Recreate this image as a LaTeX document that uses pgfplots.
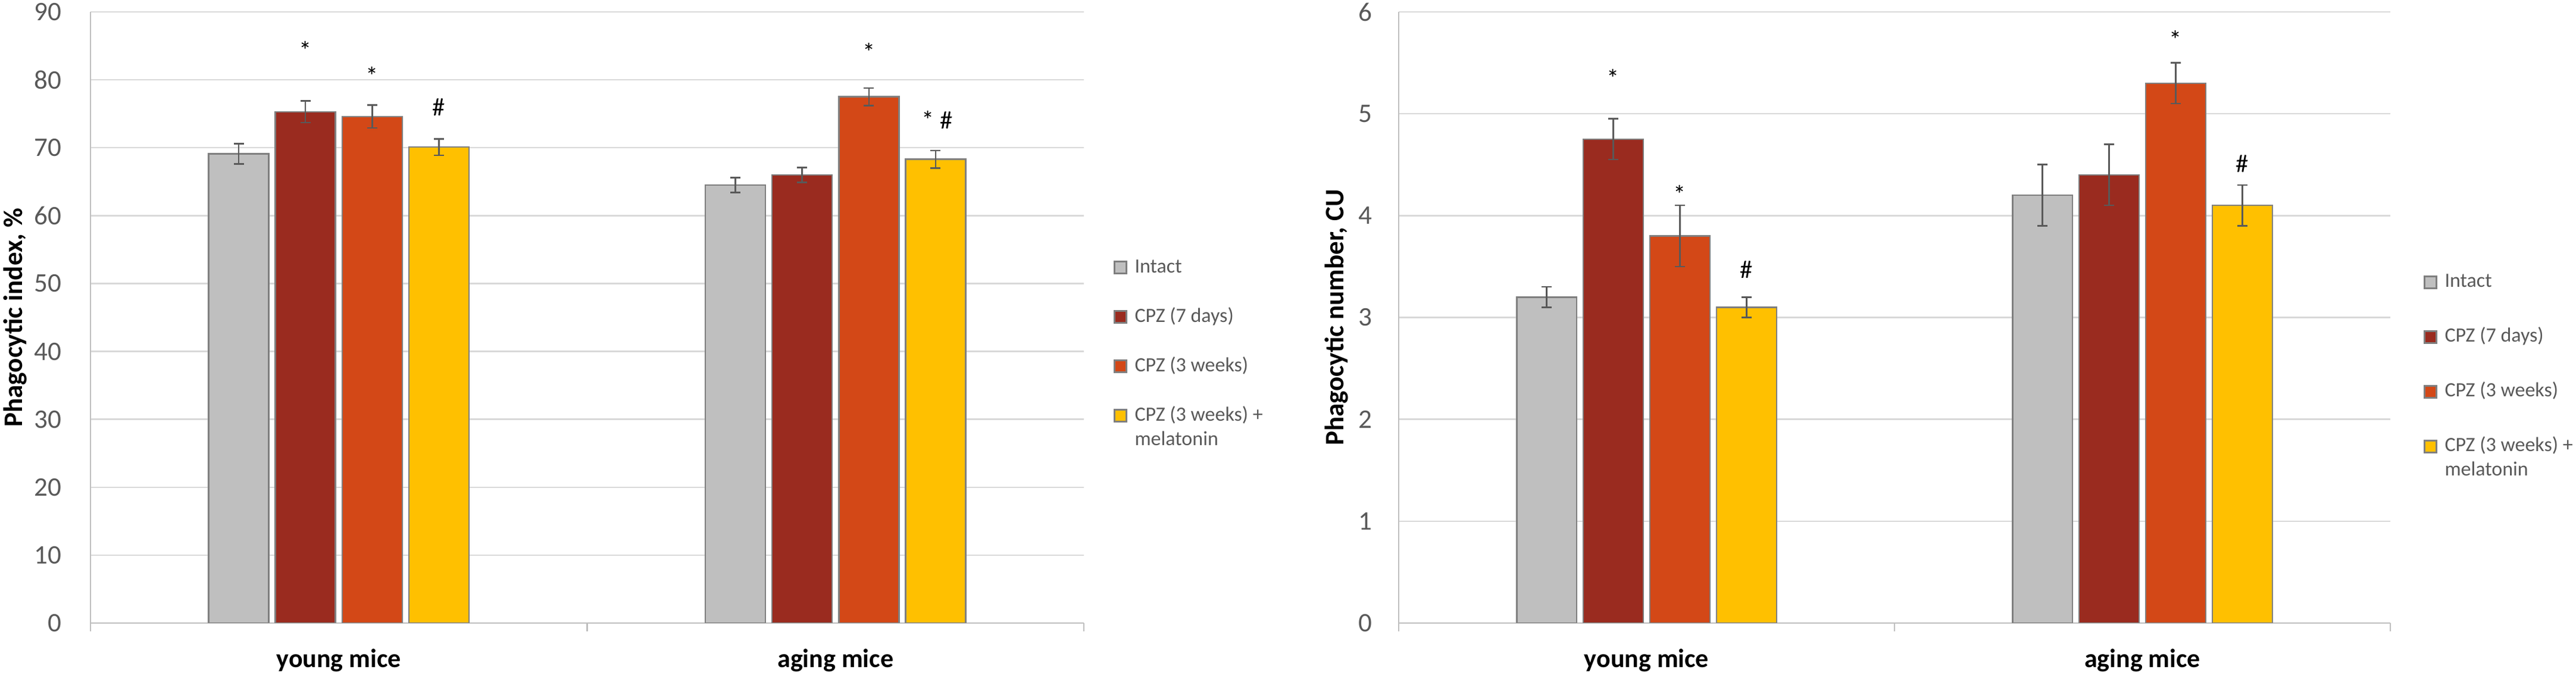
\documentclass[border=0pt]{standalone}
\usepackage{fontspec}
\setmainfont{Carlito}
\usepackage{pgfplots}
\pgfplotsset{compat=1.18}

\definecolor{cGray}{HTML}{BFBFBF}
\definecolor{cDark}{HTML}{9A2B1F}
\definecolor{cOrange}{HTML}{D34817}
\definecolor{cYellow}{HTML}{FFC000}
\definecolor{cEdge}{HTML}{7F7F7F}
\definecolor{cErr}{HTML}{595959}
\definecolor{cGrid}{HTML}{D9D9D9}
\definecolor{cAxis}{HTML}{BFBFBF}
\definecolor{cText}{HTML}{595959}

\newcommand\tickfont{\fontsize{9}{10.5}\selectfont}
\newcommand\starfont{\fontsize{8.5}{10}\selectfont}
\newcommand\catfont{\fontsize{8.8}{10.5}\selectfont\bfseries}
\newcommand\labfont{\fontsize{9}{11}\selectfont\bfseries}
\newcommand\legfont{\fontsize{6.8}{8.2}\selectfont}

\pgfplotsset{
  mybase/.style={
    scale only axis, height=205.4pt,
    ymin=0, xmin=-0.5, xmax=1.5,
    axis x line=bottom, axis y line=left,
    axis line style={draw=cAxis, line width=0.5pt, -},
    xtick={0,1}, xticklabels={young mice, aging mice},
    x tick label style={font=\catfont, text=black, anchor=center, yshift=-12.6pt},
    major tick length=0pt,
    extra x ticks={-0.5,0.5,1.5}, extra x tick labels={},
    extra x tick style={major tick length=2.8pt, tick align=outside,
      tick style={draw=cAxis, line width=0.5pt}, grid=none},
    ymajorgrids, grid style={draw=cGrid, line width=0.5pt},
    y tick label style={font=\tickfont, text=cText, /pgf/number format/assume math mode=true},
    ylabel style={font=\labfont, text=black, anchor=center},
    ybar, bar width=0.121,
    error bars/error bar style={draw=cErr, line width=0.5pt},
    error bars/error mark options={rotate=90, mark size=1.7pt, draw=cErr, line width=0.5pt},
    legend image code/.code={\draw[##1, line width=0.5pt] (0pt,-2pt) rectangle (4pt,2pt);\path (5.6pt,0pt);},
    legend cell align=left,
  },
  mybar/.style={line width=0.5pt, draw=cEdge, error bars/y dir=both, error bars/y explicit},
}

\begin{document}
\begin{tikzpicture}
\path[use as bounding box] (0,0) rectangle (865.6pt,227.2pt);

% ---------------- left chart ----------------
\begin{axis}[mybase,
  at={(30.4pt,17.8pt)}, anchor=south west,
  width=333.8pt,
  ymax=90, ytick={0,10,...,90},
  y tick label style={xshift=-6.3pt},
  ylabel={Phagocytic index, \%},
  ylabel style={at={(axis description cs:-0.0755,0.5)}},
  legend style={draw=none, fill=none, at={(1.0294,0.6037)}, anchor=north west,
    font=\legfont, text=cText, inner sep=0pt, row sep=8pt,
    nodes={inner sep=1pt, text height=5pt, text depth=1.6pt}},
]
\addplot[mybar, fill=cGray, bar shift=-0.2015] table[x=x, y=y, y error=e] {
x y e
0 69.1 1.5
1 64.5 1.1
};
\addlegendentry{Intact}
\addplot[mybar, fill=cDark, bar shift=-0.0672] table[x=x, y=y, y error=e] {
x y e
0 75.3 1.6
1 66.0 1.1
};
\addlegendentry{CPZ (7 days)}
\addplot[mybar, fill=cOrange, bar shift=0.0672] table[x=x, y=y, y error=e] {
x y e
0 74.6 1.7
1 77.5 1.3
};
\addlegendentry{CPZ (3 weeks)}
\addplot[mybar, fill=cYellow, bar shift=0.2015] table[x=x, y=y, y error=e] {
x y e
0 70.1 1.2
1 68.3 1.3
};
\addlegendentry{\begin{tabular}[t]{@{}l@{}}CPZ (3 weeks) +\\melatonin\end{tabular}}
\node[font=\starfont, inner sep=0pt] at (axis cs:-0.0672,84.4) {*};
\node[font=\starfont, inner sep=0pt] at (axis cs:0.0672,80.6) {*};
\node[font=\starfont, inner sep=0pt] at (axis cs:0.2015,76.0) {\#};
\node[font=\starfont, inner sep=0pt] at (axis cs:1.0672,84.1) {*};
\node[font=\starfont, inner sep=0pt] at (axis cs:1.205,74.1) {* \#};
\end{axis}

% ---------------- right chart ----------------
\begin{axis}[mybase,
  at={(470pt,17.8pt)}, anchor=south west,
  width=333.2pt,
  ymax=6, ytick={0,1,...,6},
  y tick label style={xshift=-5.5pt},
  ylabel={Phagocytic number, CU},
  ylabel style={at={(axis description cs:-0.063,0.5)}},
  legend style={draw=none, fill=none, at={(1.0330,0.5794)}, anchor=north west,
    font=\legfont, text=cText, inner sep=0pt, row sep=9.8pt,
    nodes={inner sep=1pt, text height=5pt, text depth=1.6pt}},
]
\addplot[mybar, fill=cGray, bar shift=-0.2015] table[x=x, y=y, y error=e] {
x y e
0 3.2 0.1
1 4.2 0.3
};
\addlegendentry{Intact}
\addplot[mybar, fill=cDark, bar shift=-0.0672] table[x=x, y=y, y error=e] {
x y e
0 4.75 0.2
1 4.4 0.3
};
\addlegendentry{CPZ (7 days)}
\addplot[mybar, fill=cOrange, bar shift=0.0672] table[x=x, y=y, y error=e] {
x y e
0 3.8 0.3
1 5.3 0.2
};
\addlegendentry{CPZ (3 weeks)}
\addplot[mybar, fill=cYellow, bar shift=0.2015] table[x=x, y=y, y error=e] {
x y e
0 3.1 0.1
1 4.1 0.2
};
\addlegendentry{\begin{tabular}[t]{@{}l@{}}CPZ (3 weeks) +\\melatonin\end{tabular}}
\node[font=\starfont, inner sep=0pt] at (axis cs:-0.0672,5.35) {*};
\node[font=\starfont, inner sep=0pt] at (axis cs:0.0672,4.21) {*};
\node[font=\starfont, inner sep=0pt] at (axis cs:0.2015,3.47) {\#};
\node[font=\starfont, inner sep=0pt] at (axis cs:1.0672,5.73) {*};
\node[font=\starfont, inner sep=0pt] at (axis cs:1.2015,4.51) {\#};
\end{axis}
\end{tikzpicture}
\end{document}
